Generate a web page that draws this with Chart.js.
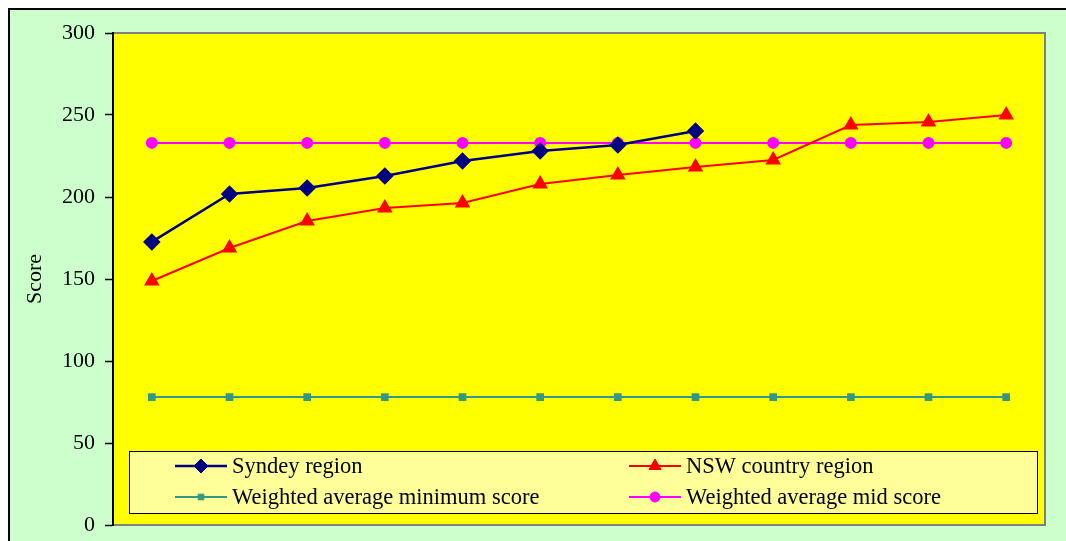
<!DOCTYPE html>
<html>
<head>
<meta charset="utf-8">
<script src="https://cdn.jsdelivr.net/npm/chart.js@4"></script>
<style>
  html, body { margin: 0; padding: 0; background: #fff; }
  #wrap { position: relative; width: 1066px; height: 541px; }
</style>
</head>
<body>
<div id="wrap"><canvas id="scoreChart" width="1066" height="541"></canvas></div>
<script>
// Chart data
const categories = ['1', '2', '3', '4', '5', '6', '7', '8', '9', '10', '11', '12'];
const sydneyRegion = [172.6, 201.8, 205.5, 212.8, 222, 228, 231.7, 240.2, null, null, null, null];
const nswCountry = [148.8, 168.9, 185.4, 193.3, 196.3, 207.9, 213.4, 218.3, 222.6, 243.9, 245.7, 250];
const weightedMin = [78, 78, 78, 78, 78, 78, 78, 78, 78, 78, 78, 78];
const weightedMid = [233, 233, 233, 233, 233, 233, 233, 233, 233, 233, 233, 233];
const yTicks = [0, 50, 100, 150, 200, 250, 300];

const serif = '"Liberation Serif", "Times New Roman", serif';

// Background: green panel + yellow plot area
const backdrop = {
    id: 'backdrop',
    beforeDraw(chart) {
        const ctx = chart.ctx;
        const a = chart.chartArea;
        ctx.save();
        ctx.fillStyle = '#ccffcc';
        ctx.fillRect(9, 9, chart.width - 9, chart.height - 9);
        ctx.strokeStyle = '#000';
        ctx.lineWidth = 2;
        ctx.beginPath();
        ctx.moveTo(9, chart.height);
        ctx.lineTo(9, 9);
        ctx.lineTo(chart.width, 9);
        ctx.stroke();
        ctx.fillStyle = '#ffff00';
        ctx.fillRect(a.left, a.top, a.width, a.height);
        ctx.strokeStyle = '#808080';
        ctx.lineWidth = 2;
        ctx.strokeRect(a.left, a.top, a.width, a.height);
        ctx.restore();
    }
};

// Legend drawn inside the plot area
const innerLegend = {
    id: 'innerLegend',
    afterDatasetsDraw(chart) {
        const ctx = chart.ctx;
        const a = chart.chartArea;
        const x0 = a.left + 16, y0 = 451, w = 908, h = 62;
        ctx.save();
        ctx.fillStyle = '#ffff99';
        ctx.fillRect(x0, y0, w, h);
        ctx.strokeStyle = '#000';
        ctx.lineWidth = 1;
        ctx.strokeRect(x0 + 0.5, y0 + 0.5, w, h);
        const cols = [175, 629];
        const rows = [466, 497];
        ctx.font = '22.5px ' + serif;
        ctx.textBaseline = 'middle';
        chart.data.datasets.forEach((ds, i) => {
            const lx = cols[i % 2], ly = rows[Math.floor(i / 2)];
            ctx.strokeStyle = ds.borderColor;
            ctx.lineWidth = ds.borderWidth;
            ctx.beginPath();
            ctx.moveTo(lx, ly);
            ctx.lineTo(lx + 52, ly);
            ctx.stroke();
            ctx.fillStyle = ds.pointBackgroundColor;
            ctx.strokeStyle = ds.pointBorderColor;
            ctx.lineWidth = 1;
            Chart.helpers.drawPoint(ctx, {
                pointStyle: ds.pointStyle, radius: ds.pointRadius, rotation: 0, borderWidth: 1
            }, lx + 26, ly);
            ctx.fillStyle = '#000';
            ctx.fillText(ds.label, lx + 57, ly + 1);
        });
        ctx.restore();
    }
};

const ctx = document.getElementById('scoreChart').getContext('2d');
new Chart(ctx, {
    type: 'line',
    data: {
        labels: categories,
        datasets: [{
            label: 'Syndey region',
            data: sydneyRegion,
            borderColor: '#000080',
            borderWidth: 2.5,
            pointStyle: 'rectRot',
            pointRadius: 7,
            pointBackgroundColor: '#000080',
            pointBorderColor: '#000080'
        }, {
            label: 'NSW country region',
            data: nswCountry,
            borderColor: '#ff0000',
            borderWidth: 2,
            pointStyle: 'triangle',
            pointRadius: 7,
            pointBackgroundColor: '#ff0000',
            pointBorderColor: '#ff0000'
        }, {
            label: 'Weighted average minimum score',
            data: weightedMin,
            borderColor: '#339980',
            borderWidth: 2,
            pointStyle: 'rect',
            pointRadius: 4,
            pointBackgroundColor: '#339980',
            pointBorderColor: '#339980'
        }, {
            label: 'Weighted average mid score',
            data: weightedMid,
            borderColor: '#ff00ff',
            borderWidth: 2,
            pointStyle: 'circle',
            pointRadius: 5,
            pointBackgroundColor: '#ff00ff',
            pointBorderColor: '#ff00ff'
        }]
    },
    options: {
        responsive: false,
        animation: false,
        spanGaps: false,
        layout: { padding: { top: 33, right: 21, bottom: 16, left: 0 } },
        plugins: {
            legend: { display: false },
            tooltip: { enabled: false }
        },
        scales: {
            x: {
                type: 'category',
                offset: true,
                display: false
            },
            y: {
                min: 0,
                max: 300,
                afterBuildTicks(scale) {
                    scale.ticks = yTicks.map(v => ({ value: v }));
                },
                afterFit(scale) {
                    scale.width = 113;
                    scale.paddingTop = 0;
                    scale.paddingBottom = 0;
                },
                border: { display: true, color: '#000', width: 2 },
                grid: {
                    drawOnChartArea: false,
                    drawTicks: true,
                    tickLength: 8,
                    tickColor: '#000',
                    tickWidth: 1.5
                },
                ticks: {
                    color: '#000',
                    padding: 10,
                    font: { family: serif, size: 22 }
                },
                title: {
                    display: true,
                    text: 'Score',
                    color: '#000',
                    font: { family: serif, size: 22 },
                    padding: { top: 22, bottom: 0 }
                }
            }
        }
    },
    plugins: [backdrop, innerLegend]
});
</script>
</body>
</html>
